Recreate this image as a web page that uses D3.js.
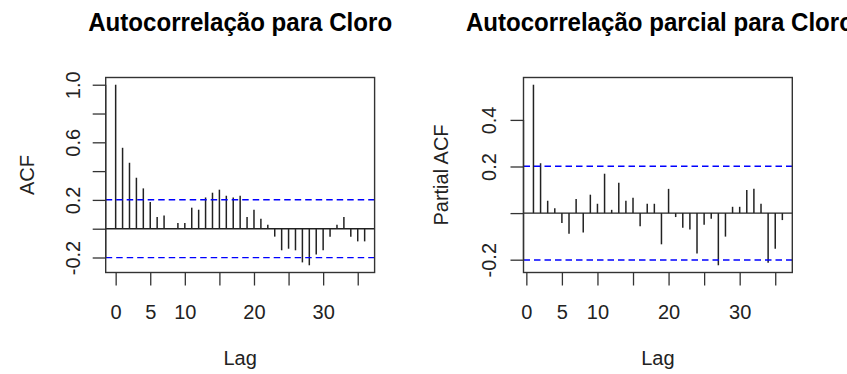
<!DOCTYPE html>
<html>
<head>
<meta charset="utf-8">
<script src="https://cdn.jsdelivr.net/npm/d3@7"></script>
<style>
  html, body { margin: 0; padding: 0; background: #fff; }
  svg { display: block; font-family: "Liberation Sans", Arial, sans-serif; }
</style>
</head>
<body>
<svg id="chart" width="847" height="374"></svg>
<script>
// Sample autocorrelations of the chlorine series, lags 0..36
const acfLags = d3.range(0, 37);
const acfValues = [
  1.000, 0.562, 0.458, 0.354, 0.280, 0.185, 0.081, 0.092, 0.003, 0.039,
  0.039, 0.146, 0.132, 0.217, 0.250, 0.271, 0.229, 0.217, 0.229, 0.081,
  0.132, 0.069, 0.028, -0.055, -0.150, -0.139, -0.150, -0.234, -0.254, -0.180,
  -0.150, -0.055, 0.028, 0.081, -0.055, -0.088, -0.088
];

// Partial autocorrelations, lags 1..36
const pacfLags = d3.range(1, 37);
const pacfValues = [
  0.551, 0.214, 0.053, 0.021, -0.043, -0.089, 0.060, -0.083, 0.079, 0.040,
  0.169, 0.014, 0.130, 0.053, 0.066, -0.056, 0.040, 0.040, -0.134, 0.104,
  -0.017, -0.063, -0.070, -0.173, -0.050, -0.024, -0.224, -0.101, 0.027, 0.027,
  0.099, 0.104, 0.040, -0.213, -0.153, -0.030
];

// Number of observations behind the 95% white-noise bounds
const nObs = 95;

const xTicks = [0, 5, 10, 15, 20, 25, 30, 35];
const xTickLabels = [0, 5, 10, 20, 30];
const acfYTicks = [-0.2, 0.0, 0.2, 0.4, 0.6, 0.8, 1.0];
const acfYTickLabels = [-0.2, 0.2, 0.6, 1.0];
const pacfYTicks = [-0.2, 0.0, 0.2, 0.4];
const pacfYTickLabels = [-0.2, 0.2, 0.4];

const titles = ["Autocorrelação para Cloro", "Autocorrelação parcial para Cloro"];
const yLabels = ["ACF", "Partial ACF"];
const xLabel = "Lag";

const clim = 1.96 / Math.sqrt(nObs);
const svg = d3.select("#chart");

// extend a range by 4% on each side, like R's default axis style
function pad(ext) {
  const d = (ext[1] - ext[0]) * 0.04;
  return [ext[0] - d, ext[1] + d];
}

// one decimal, plain hyphen for negatives
const fmt = d => d3.format(".1f")(d).replace("\u2212", "-");

function panel(opt) {
  const lagExt = d3.extent(opt.lags);
  const valExt = d3.extent(opt.values.concat([-clim, clim]));
  const x = d3.scaleLinear().domain(pad(lagExt)).range([opt.left, opt.right]);
  const y = d3.scaleLinear().domain(pad(valExt)).range([opt.bottom, opt.top]);
  const g = svg.append("g");

  // stems
  g.selectAll("line.stem")
    .data(opt.lags.map((l, i) => [l, opt.values[i]]))
    .join("line")
    .attr("class", "stem")
    .attr("x1", d => x(d[0])).attr("x2", d => x(d[0]))
    .attr("y1", y(0)).attr("y2", d => y(d[1]))
    .attr("stroke", "#222").attr("stroke-width", 1.5);

  // zero line
  g.append("line")
    .attr("x1", opt.left).attr("x2", opt.right)
    .attr("y1", y(0)).attr("y2", y(0))
    .attr("stroke", "#222").attr("stroke-width", 1.4);

  // confidence bounds
  g.selectAll("line.ci")
    .data([clim, -clim])
    .join("line")
    .attr("class", "ci")
    .attr("x1", opt.left).attr("x2", opt.right)
    .attr("y1", d => y(d)).attr("y2", d => y(d))
    .attr("stroke", "#0000ff").attr("stroke-width", 1.4)
    .attr("stroke-dasharray", "6.5,4");

  // frame
  g.append("rect")
    .attr("x", opt.left).attr("y", opt.top)
    .attr("width", opt.right - opt.left).attr("height", opt.bottom - opt.top)
    .attr("fill", "none").attr("stroke", "#333").attr("stroke-width", 1.4);

  // x axis
  const xAxis = d3.axisBottom(x).tickValues(xTicks).tickSize(13)
    .tickFormat(d => xTickLabels.includes(d) ? d : "");
  const gx = g.append("g").attr("transform", `translate(0,${opt.bottom})`).call(xAxis);
  gx.select(".domain")
    .attr("d", `M${x(xTicks[0])},0H${x(xTicks[xTicks.length - 1])}`)
    .attr("stroke", "none");
  gx.selectAll(".tick line").attr("stroke", "#333").attr("stroke-width", 1.3);
  gx.selectAll(".tick text")
    .attr("y", 0).attr("dy", null)
    .attr("transform", "translate(0,46)")
    .attr("font-size", 20).attr("fill", "#222")
    .attr("font-family", "'Liberation Sans', Arial, sans-serif");

  // y axis
  const yAxis = d3.axisLeft(y).tickValues(opt.yTicks).tickSize(13)
    .tickFormat(d => opt.yTickLabels.some(v => Math.abs(v - d) < 1e-9) ? fmt(d) : "");
  const gy = g.append("g").attr("transform", `translate(${opt.left},0)`).call(yAxis);
  gy.select(".domain")
    .attr("d", `M0,${y(opt.yTicks[0])}V${y(opt.yTicks[opt.yTicks.length - 1])}`)
    .attr("stroke", "#333").attr("stroke-width", 1.3);
  gy.selectAll(".tick line").attr("stroke", "#333").attr("stroke-width", 1.3);
  gy.selectAll(".tick text")
    .attr("x", 0).attr("dy", null)
    .attr("text-anchor", "middle")
    .attr("transform", `translate(${opt.yTickBase - opt.left},0) rotate(-90)`)
    .attr("font-size", 20).attr("fill", "#222")
    .attr("font-family", "'Liberation Sans', Arial, sans-serif");

  const cx = (opt.left + opt.right) / 2;
  const cy = (opt.top + opt.bottom) / 2;

  // title
  g.append("text")
    .attr("x", cx + opt.titleShift).attr("y", 31)
    .attr("text-anchor", "middle")
    .attr("font-size", 26).attr("font-weight", "bold").attr("fill", "#000")
    .attr("textLength", opt.titleLen).attr("lengthAdjust", "spacingAndGlyphs")
    .text(opt.title);

  // axis titles
  g.append("text")
    .attr("x", cx).attr("y", 365)
    .attr("text-anchor", "middle")
    .attr("font-size", 20).attr("fill", "#222")
    .text(xLabel);

  g.append("text")
    .attr("transform", `translate(${opt.yLabelBase},${cy}) rotate(-90)`)
    .attr("text-anchor", "middle")
    .attr("font-size", 20).attr("fill", "#222")
    .text(opt.yLabel);
}

panel({
  lags: acfLags, values: acfValues,
  left: 105.7, right: 374.6, top: 77.5, bottom: 272.5,
  yTicks: acfYTicks, yTickLabels: acfYTickLabels,
  yTickBase: 80, yLabelBase: 34,
  title: titles[0], titleLen: 304, titleShift: 0, yLabel: yLabels[0]
});

panel({
  lags: pacfLags, values: pacfValues,
  left: 523.5, right: 792.3, top: 77.5, bottom: 272.5,
  yTicks: pacfYTicks, yTickLabels: pacfYTickLabels,
  yTickBase: 495.5, yLabelBase: 448,
  title: titles[1], titleLen: 388, titleShift: 2, yLabel: yLabels[1]
});
</script>
</body>
</html>
